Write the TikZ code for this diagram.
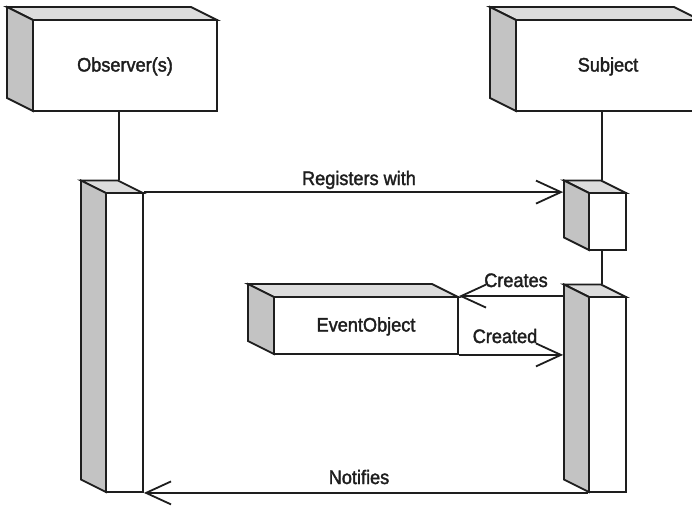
\documentclass[tikz,border=0pt]{standalone}
\usepackage{fontspec}
\setmainfont{Liberation Sans}[FakeStretch=0.93,FakeBold=1.8]
\usetikzlibrary{arrows.meta}

\definecolor{ink}{HTML}{1E1E1E}
\definecolor{sidegray}{HTML}{C3C3C3}
\definecolor{topgray}{HTML}{DCDCDC}

\tikzset{
  topface/.style={fill=topgray, draw=ink},
  sideface/.style={fill=sidegray, draw=ink},
  frontface/.style={fill=white, draw=ink, inner sep=0pt, rectangle,
    text height=12pt, text depth=0pt, font=\fontsize{19.5pt}{23pt}\selectfont},
  lifeline/.style={draw=ink},
  msg/.style={draw=ink, -{Straight Barb[length=25pt,width=23pt]}},
  msgtext/.style={anchor=base, inner sep=0pt, text=ink,
    font=\fontsize{19.5pt}{23pt}\selectfont},
}

% #1 name, #2 left, #3 top, #4 right, #5 bottom (front face), #6 depth, #7 text
\newcommand{\prism}[7]{%
  \filldraw[topface] (#2,#3) -- ++(-#6,-#6/2) -- (#4-#6,#3-#6/2) -- (#4,#3) -- cycle;
  \filldraw[sideface] (#2,#3) -- ++(-#6,-#6/2) -- (#2-#6,#5-#6/2) -- (#2,#5) -- cycle;
  \node[frontface, minimum width={#4-#2}, minimum height={#5-#3}]
    (#1) at ({(#2+#4)/2},{(#3+#5)/2}) {#7};
}

\begin{document}
\begin{tikzpicture}[x=1pt, y=-1pt, line width=1.8pt, color=ink]
  \useasboundingbox (0,0) rectangle (692,507);
  \clip (0,0) rectangle (692,507);

  % objects
  \prism{obs}{33}{20}{217}{111}{26}{Observer(s)}
  \prism{subj}{516}{20}{700}{111}{26}{Subject}

  % activations
  \prism{obsact}{106}{193}{143}{492}{25}{}
  \prism{subjactA}{589}{193}{626}{250}{25}{}
  \prism{subjactB}{589}{297}{626}{492}{25}{}

  % created object
  \prism{event}{274}{297}{458}{354}{26}{EventObject}

  % back corners and side edges of the activations
  \coordinate (obsbk) at ([xshift=-25pt,yshift=12.5pt]obsact.north east);
  \coordinate (subjAbk) at ([xshift=-25pt,yshift=12.5pt]subjactA.north east);
  \coordinate (subjBbk) at ([xshift=-25pt,yshift=12.5pt]subjactB.north east);
  \coordinate (subjAside) at ([xshift=-25pt]subjactA.north west);
  \coordinate (subjBside) at ([xshift=-25pt]subjactB.west);

  % lifelines
  \draw[lifeline] (obsbk |- obs.south) -- (obsbk);
  \draw[lifeline] (subjAbk |- subj.south) -- (subjAbk);
  \draw[lifeline] (subjBbk |- subjactA.south) -- (subjBbk);

  % messages
  \draw[msg] (obsact.north east) -- (subjAside);
  \draw[msg] (subjBside |- subjactB.north) -- (event.north east);
  \draw[msg] (event.south east) -- (event.south east -| subjBside);
  \draw[msg] (subjactB.south west) -- (obsact.south east);

  % message labels
  \node[msgtext] (lreg) at (359,185) {Registers with};
  \node[msgtext] (lcreates) at (516,287) {Creates};
  \node[msgtext] (lcreated) at (505,343) {Created};
  \node[msgtext] (lnotify) at (359,484) {Notifies};
\end{tikzpicture}
\end{document}
